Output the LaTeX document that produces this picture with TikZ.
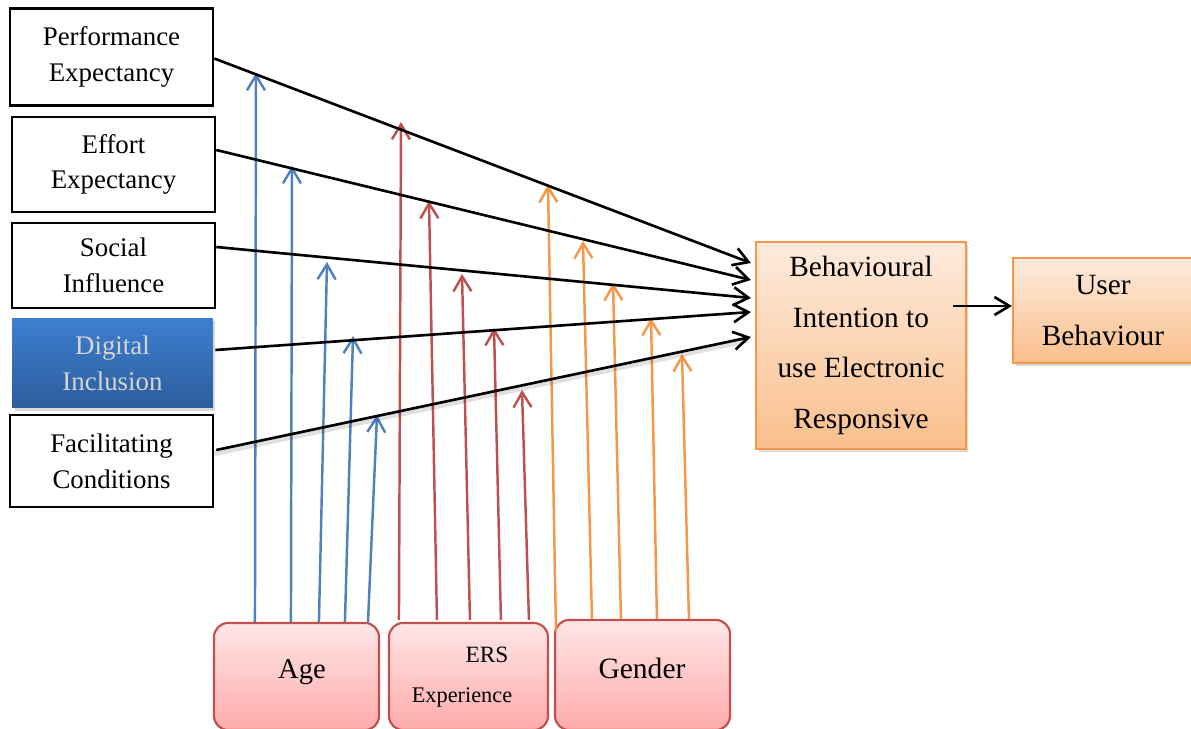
\documentclass[tikz,border=0pt]{standalone}
\usepackage{fontspec}
\setmainfont{Liberation Serif}
\usetikzlibrary{arrows.meta,shadows,calc}

\definecolor{ageblue}{HTML}{4F81BD}
\definecolor{ersred}{HTML}{C0504D}
\definecolor{genorange}{HTML}{F79646}
\definecolor{pinktop}{HTML}{FFE6E6}
\definecolor{pinkbot}{HTML}{FFABAB}
\definecolor{peachtop}{HTML}{FDEBDD}
\definecolor{peachbot}{HTML}{FABF8C}
\definecolor{ditop}{HTML}{3D7FD0}
\definecolor{dibot}{HTML}{2D5D9C}
\definecolor{ditext}{HTML}{D4D4D4}

\tikzset{
  construct/.style={draw=black, line width=1.5pt, fill=white, inner sep=0pt,
    minimum width=4.06cm, align=center, font=\fontsize{15.3}{20.4}\selectfont},
  highlight/.style={draw=none, top color=ditop, bottom color=dibot, inner sep=0pt,
    minimum width=4.02cm, align=center, text=ditext,
    font=\fontsize{15.3}{20.4}\selectfont,
    drop shadow={shadow xshift=0.05cm, shadow yshift=-0.06cm, opacity=0.3}},
  outcome/.style={draw=genorange, line width=1.2pt, top color=peachtop, bottom color=peachbot,
    inner sep=0pt, align=center, font=\fontsize{16.7}{28.7}\selectfont,
    drop shadow={shadow xshift=0.05cm, shadow yshift=-0.06cm, opacity=0.3}},
  moderator/.style={draw=ersred, line width=1.2pt, rounded corners=0.28cm,
    top color=pinktop, bottom color=pinkbot, inner sep=0pt},
  modtext/.style={inner sep=0pt},
  tip/.style={-{Straight Barb[length=0.3cm,width=0.36cm]}},
  effect/.style={tip, draw=black, line width=1.5pt},
  modarrow/.style={tip, line width=1.4pt}
}

\begin{document}
\begin{tikzpicture}[x=0.02cm,y=-0.02cm]
\useasboundingbox (0,0) rectangle (1191,729);

% determinants on the left
\node[construct, minimum height=1.94cm] (pe) at (111.5,57) {Performance\\Expectancy};
\node[construct, minimum height=1.90cm] (ee) at (113.5,164.5) {Effort\\Expectancy};
\node[construct, minimum height=1.70cm] (si) at (113.5,265.5) {Social\\Influence};
\node[highlight, minimum height=1.80cm] (di) at (112.5,363) {Digital\\Inclusion};
\node[construct, minimum height=1.84cm] (fc) at (111.5,461) {Facilitating\\Conditions};

% intention and behaviour
\node[outcome, minimum width=4.20cm, minimum height=4.14cm] (bi) at (861,345.5)
  {Behavioural\\Intention to\\use Electronic\\Responsive};
\node[outcome, minimum width=3.60cm, minimum height=2.10cm] (ub) at (1103,310.5)
  {User\\Behaviour};

% moderators at the bottom
\node[moderator, minimum width=3.30cm, minimum height=2.14cm] (age) at (296.5,676.5) {};
\node[moderator, minimum width=3.18cm, minimum height=2.14cm] (ers) at (468.5,676.5) {};
\node[moderator, minimum width=3.50cm, minimum height=2.20cm] (gen) at (642.5,675) {};
\node[modtext, font=\fontsize{16.3}{18}\selectfont] (agetxt) at (302,672) {Age};
\node[modtext, font=\fontsize{13.3}{15}\selectfont] (erstxt) at (487,655) {ERS};
\node[modtext, font=\fontsize{12.7}{14}\selectfont] (exptxt) at (462,697) {Experience};
\node[modtext, font=\fontsize{16.8}{18}\selectfont] (gentxt) at (642,668) {Gender};

% tips of the moderating arrows
\coordinate (a1) at (256,73);
\coordinate (a2) at (292,166);
\coordinate (a3) at (327,262);
\coordinate (a4) at (353,336);
\coordinate (a5) at (377,415);
\coordinate (r1) at (401,122);
\coordinate (r2) at (429,201);
\coordinate (r3) at (462,274);
\coordinate (r4) at (494,328);
\coordinate (r5) at (522,390);
\coordinate (o1) at (548,185);
\coordinate (o2) at (583,241);
\coordinate (o3) at (613,283);
\coordinate (o4) at (651,318);
\coordinate (o5) at (682,354);

% age
\draw[modarrow, ageblue] ([xshift=0.84cm]age.north west) -- (a1);
\draw[modarrow, ageblue] ([xshift=1.56cm]age.north west) -- (a2);
\draw[modarrow, ageblue] ([xshift=2.12cm]age.north west) -- (a3);
\draw[modarrow, ageblue] ([xshift=2.64cm]age.north west) -- (a4);
\draw[modarrow, ageblue] ([xshift=3.10cm,yshift=-0.03cm]age.north west) -- (a5);
% experience
\draw[modarrow, ersred] ([xshift=0.22cm,yshift=0.04cm]ers.north west) -- (r1);
\draw[modarrow, ersred] ([xshift=0.98cm,yshift=0.04cm]ers.north west) -- (r2);
\draw[modarrow, ersred] ([xshift=1.64cm,yshift=0.04cm]ers.north west) -- (r3);
\draw[modarrow, ersred] ([xshift=2.26cm,yshift=0.04cm]ers.north west) -- (r4);
\draw[modarrow, ersred] ([xshift=2.82cm,yshift=0.04cm]ers.north west) -- (r5);
% gender
\draw[modarrow, genorange] ([xshift=0.04cm,yshift=-0.24cm]gen.north west) -- (o1);
\draw[modarrow, genorange] ([xshift=0.76cm]gen.north west) -- (o2);
\draw[modarrow, genorange] ([xshift=1.34cm]gen.north west) -- (o3);
\draw[modarrow, genorange] ([xshift=2.06cm]gen.north west) -- (o4);
\draw[modarrow, genorange] ([xshift=2.70cm]gen.north west) -- (o5);

% soft shadow under the facilitating conditions path
\draw[black, opacity=0.12, line width=3.5pt]
  ([yshift=0.16cm]fc.east) -- ([xshift=-0.14cm,yshift=0.11cm]bi.west);

% effects on behavioural intention
\draw[effect] ([yshift=-0.03cm]pe.east) -- ([xshift=-0.08cm,yshift=1.65cm]bi.west);
\draw[effect] ([yshift=0.29cm]ee.east) -- ([xshift=-0.08cm,yshift=1.31cm]bi.west);
\draw[effect] ([yshift=0.37cm]si.east) -- ([xshift=-0.08cm,yshift=0.95cm]bi.west);
\draw[effect] ([xshift=0.04cm,yshift=0.26cm]di.east) -- ([xshift=-0.08cm,yshift=0.67cm]bi.west);
\draw[effect] ([xshift=0.04cm,yshift=0.22cm]fc.east) -- ([xshift=-0.08cm,yshift=0.17cm]bi.west);

% intention leads to behaviour
\coordinate (ubin) at ([yshift=0.09cm]ub.west);
\coordinate (biout) at ([xshift=-0.28cm]bi.east);
\draw[effect] (biout |- ubin) -- (ubin);
\end{tikzpicture}
\end{document}
